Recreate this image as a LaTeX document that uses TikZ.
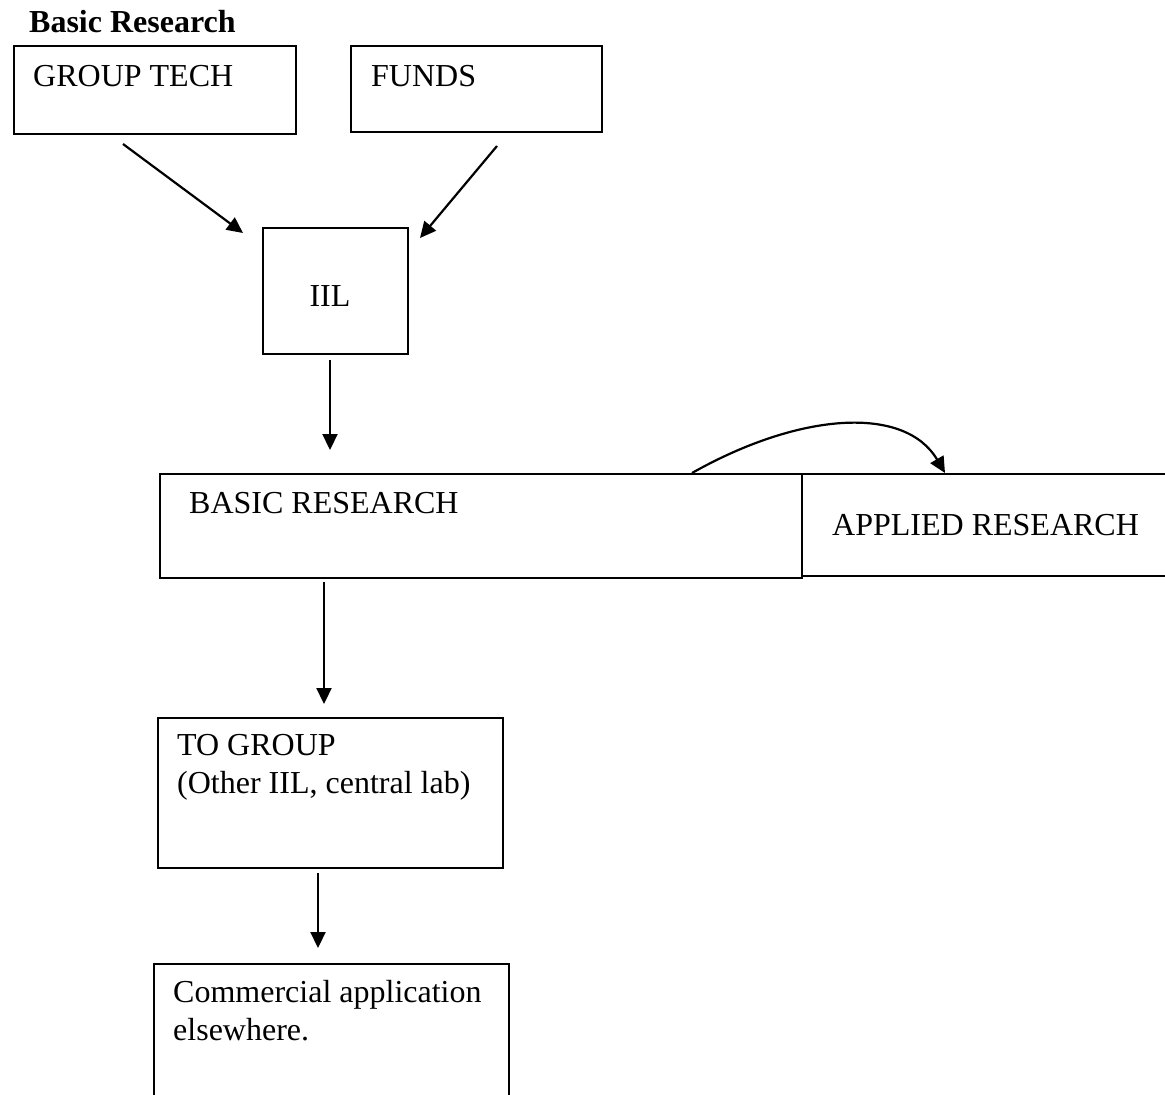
\documentclass[tikz,border=0pt]{standalone}
\usepackage{fontspec}
\setmainfont{Liberation Serif}
\usetikzlibrary{arrows.meta}
\begin{document}
\begin{tikzpicture}[x=1pt,y=-1pt,
  box/.style={draw=black,line width=2.2pt,inner sep=0pt,anchor=north west,fill=none},
  txt/.style={inner sep=0pt,anchor=base west,align=left,font=\fontsize{32}{38}\selectfont},
  arr/.style={line width=2.2pt,-{Triangle[length=16pt,width=15pt]}}]
\clip (0,0) rectangle (1165,1095);
\fill[white] (0,0) rectangle (1165,1095);

% heading
\node[txt,font=\fontsize{32}{38}\selectfont\bfseries] (head) at (29,32) {Basic Research};

% boxes (top-left corner, size)
\node[box,minimum width=282pt,minimum height=88pt] (gt) at (13,45) {};
\node[box,minimum width=251pt,minimum height=86pt] (funds) at (350,45) {};
\node[box,minimum width=145pt,minimum height=126pt] (iil) at (262,227) {};
\node[box,minimum width=642pt,minimum height=104pt] (basic) at (159,473) {};
\node[box,minimum width=380pt,minimum height=102pt] (applied) at (801,473) {};
\node[box,minimum width=345pt,minimum height=150pt] (togroup) at (157,717) {};
\node[box,minimum width=355pt,minimum height=160pt] (comm) at (153,963) {};

% box texts (two-line texts are placed by their last baseline)
\node[txt] (tgt) at (33,86) {GROUP TECH};
\node[txt] (tfunds) at (371,86) {FUNDS};
\node[txt,anchor=base] (tiil) at (330,306) {IIL};
\node[txt] (tbasic) at (189,513) {BASIC RESEARCH};
\node[txt] (tapplied) at (832,535) {APPLIED RESEARCH};
\node[txt] (ttogroup) at (177,793) {TO GROUP\\(Other IIL, central lab)};
\node[txt] (tcomm) at (173,1040) {Commercial application\\elsewhere.};

% connector end points
\coordinate (a1s) at (123,144);  \coordinate (a1e) at (243,233);
\coordinate (a2s) at (497,146);  \coordinate (a2e) at (420,238);
\coordinate (a3s) at (330,360);  \coordinate (a3e) at (330,450);
\coordinate (a4s) at (324,582);  \coordinate (a4e) at (324,704);
\coordinate (a5s) at (318,873);  \coordinate (a5e) at (318,948);
\coordinate (cs) at (692,473);   \coordinate (ce) at (945,473);

% connectors
\draw[arr] (a1s) -- (a1e);
\draw[arr] (a2s) -- (a2e);
\draw[arr] (a3s) -- (a3e);
\draw[arr] (a4s) -- (a4e);
\draw[arr] (a5s) -- (a5e);
\draw[arr] (cs) .. controls (800,412) and (905,405) .. (ce);
\end{tikzpicture}
\end{document}
